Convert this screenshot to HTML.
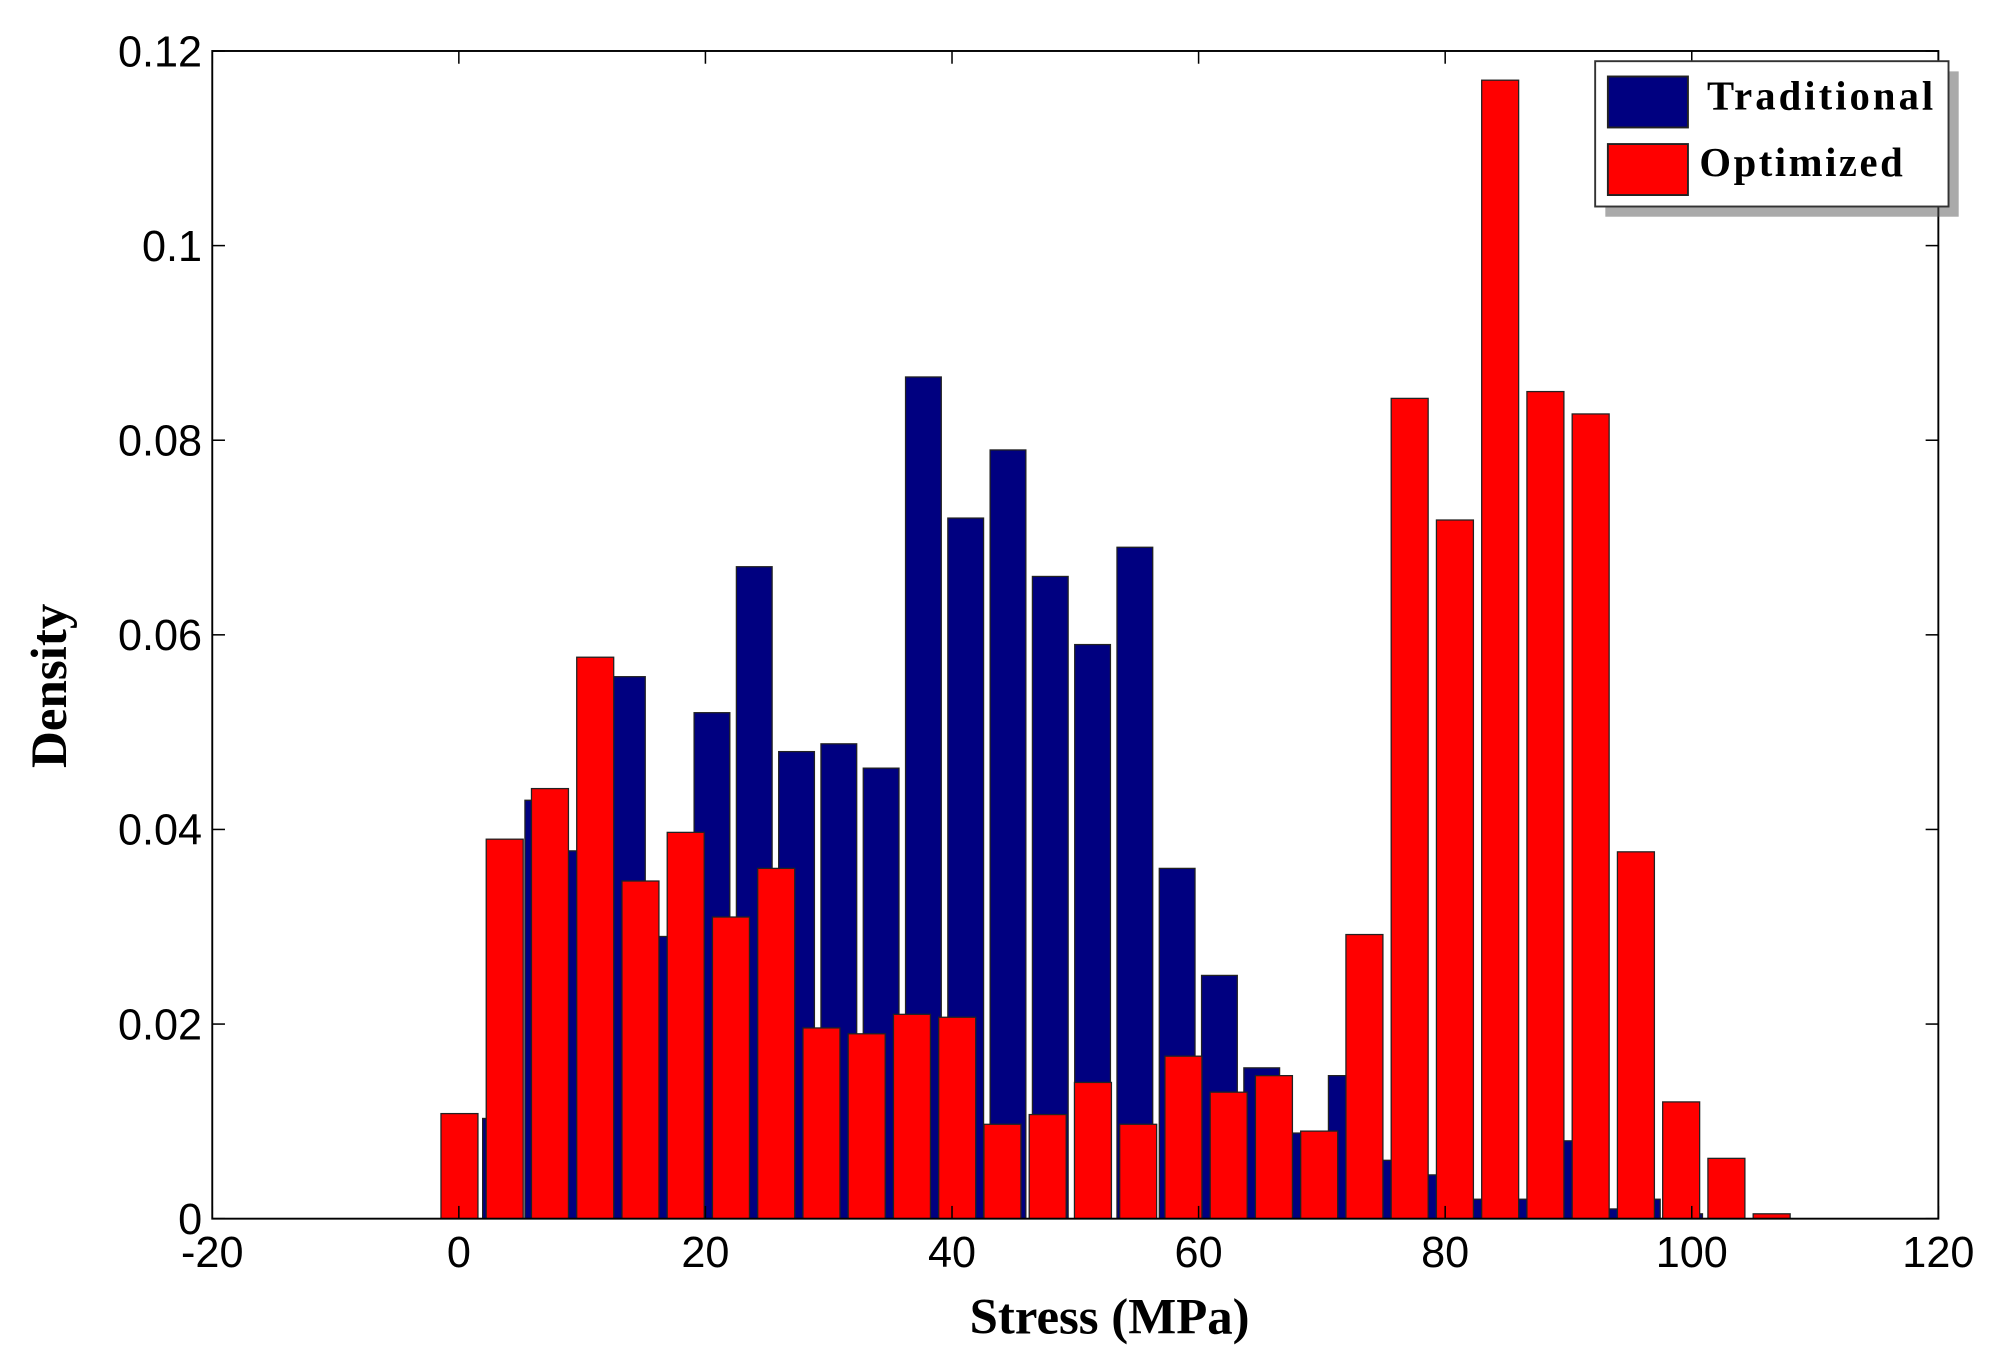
<!DOCTYPE html>
<html><head><meta charset="utf-8"><style>
html,body{margin:0;padding:0;background:#fff;}
svg{display:block}
</style></head><body>
<svg id="chart" width="1993" height="1364" viewBox="0 0 1568 1070" preserveAspectRatio="none" xmlns="http://www.w3.org/2000/svg">
<rect x="0" y="0" width="1568" height="1070" fill="#fff"/>
<g id="bars"></g>
<g id="axes"></g>
<text x="873" y="1046" text-anchor="middle" font-family="Liberation Serif, serif" font-weight="bold" font-size="40">Stress (MPa)</text>
<text transform="translate(52,538) rotate(-90)" text-anchor="middle" font-family="Liberation Serif, serif" font-weight="bold" font-size="40">Density</text>
<g>
<rect x="1263" y="56" width="278" height="114" fill="#555" opacity="0.5"/>
<rect x="1255" y="48" width="278" height="114" fill="#fff" stroke="#333" stroke-width="1.5"/>
<rect x="1265" y="60" width="63" height="40" fill="#000080" stroke="#222" stroke-width="1.5"/>
<text x="1343" y="86" font-family="Liberation Serif, serif" font-weight="bold" font-size="32" textLength="178">Traditional</text>
<rect x="1265" y="113" width="63" height="40" fill="#ff0000" stroke="#222" stroke-width="1.5"/>
<text x="1337" y="138" font-family="Liberation Serif, serif" font-weight="bold" font-size="32" textLength="160">Optimized</text>
</g>
</svg>
<script>
const blueStart = -0.05, blueStep = 3.43;
const blueValues = [0,0.0103,0.043,0.0378,0.0557,0.029,0.052,0.067,0.048,0.0488,0.0463,0.0865,0.072,0.079,0.066,0.059,0.069,0.036,0.025,0.0155,0.0088,0.0147,0.006,0.0045,0.002,0.002,0.008,0.001,0.002,0.0005,0.005];
const redStart = 0.05, redStep = 3.67;
const redValues = [0.0108,0.039,0.0442,0.0577,0.0347,0.0397,0.031,0.036,0.0196,0.019,0.021,0.0207,0.0097,0.0107,0.014,0.0097,0.0167,0.013,0.0147,0.009,0.0292,0.0843,0.0718,0.117,0.085,0.0827,0.0377,0.012,0.0062,0.0005];
const xTicks = [-20,0,20,40,60,80,100,120];
const yTicks = [0,0.02,0.04,0.06,0.08,0.1,0.12];
const yTickLabels = ["0","0.02","0.04","0.06","0.08","0.1","0.12"];

const L=167,R=1525,T=40,B=956;
const xs = v => L + (v+20)/140*(R-L);
const ys = v => B - v/0.12*(B-T);
const NS="http://www.w3.org/2000/svg";
const bars=document.getElementById('bars'), axes=document.getElementById('axes');
function mk(tag,attrs,parent){const e=document.createElementNS(NS,tag);for(const k in attrs)e.setAttribute(k,attrs[k]);parent.appendChild(e);return e;}
const bw = 2.9;
blueValues.forEach((v,i)=>{const c=blueStart+i*blueStep;if(v<=0)return;
 const r=mk('rect',{x:xs(c-bw/2),y:ys(v),width:xs(c+bw/2)-xs(c-bw/2),height:B-ys(v),fill:'#000080',stroke:'#222','stroke-width':1},bars);
 
 });
redValues.forEach((v,i)=>{const c=redStart+i*redStep;
 const r=mk('rect',{x:xs(c-1.5),y:ys(v),width:xs(c+1.5)-xs(c-1.5),height:B-ys(v),fill:'#ff0000',stroke:'#222','stroke-width':1},bars);
 
 });
mk('rect',{x:L,y:T,width:R-L,height:B-T,fill:'none',stroke:'#000','stroke-width':1.5},axes);
xTicks.forEach(t=>{const x=xs(t);
 mk('line',{x1:x,y1:B,x2:x,y2:B-10,stroke:'#000','stroke-width':1.2},axes);
 mk('line',{x1:x,y1:T,x2:x,y2:T+10,stroke:'#000','stroke-width':1.2},axes);
 const tx=mk('text',{x:x,y:B+38,'text-anchor':'middle','font-family':'Liberation Sans, sans-serif','font-size':34},axes);tx.textContent=String(t);
 
 });
yTicks.forEach((t,i)=>{const y=ys(t);
 mk('line',{x1:L,y1:y,x2:L+10,y2:y,stroke:'#000','stroke-width':1.2},axes);
 mk('line',{x1:R,y1:y,x2:R-10,y2:y,stroke:'#000','stroke-width':1.2},axes);
 const tx=mk('text',{x:L-8,y:y+12,'text-anchor':'end','font-family':'Liberation Sans, sans-serif','font-size':34},axes);tx.textContent=yTickLabels[i];
 
 });
</script>
</body></html>
